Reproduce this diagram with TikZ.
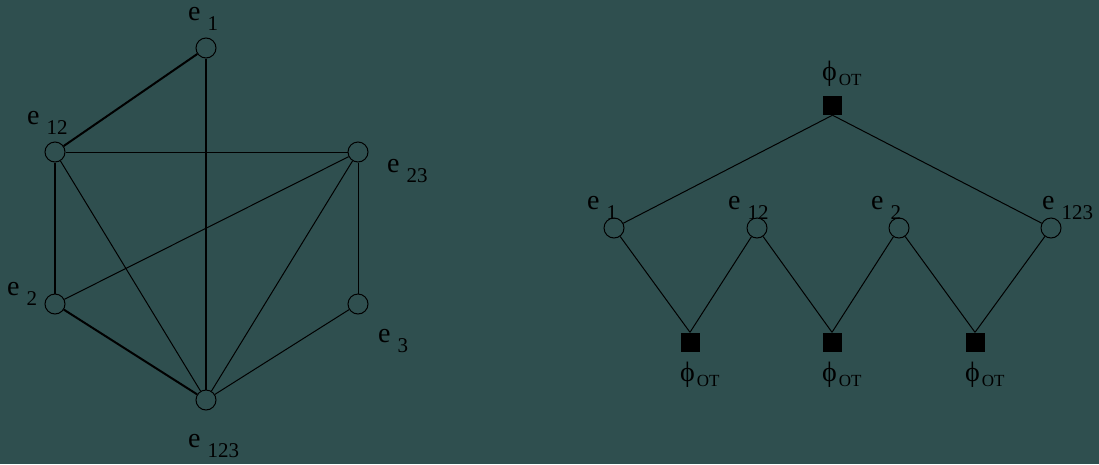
\documentclass[tikz,border=0pt]{standalone}
\usepackage{fontspec}
\setmainfont{Liberation Serif}
\usepackage{tikz}
\usetikzlibrary{positioning}
\definecolor{slatebg}{HTML}{2F4F4F}
\newcommand{\elbl}[2]{#1\kern7pt\raisebox{-10pt}{\fontsize{21}{21}\selectfont #2}}
\newcommand{\phiot}{ϕ\kern2pt\raisebox{-5pt}{\fontsize{17}{17}\selectfont OT}}

\begin{document}
\begin{tikzpicture}[x=1pt,y=-1pt,
  ev/.style={circle,draw=black,line width=1pt,inner sep=0pt,minimum size=20pt},
  fac/.style={rectangle,fill=black,inner sep=0pt,minimum size=19pt},
  lab/.style={anchor=base west,inner sep=0pt,font=\fontsize{28}{28}\selectfont},
  thin/.style={line width=1pt},
  heavy/.style={line width=2pt}]
  \fill[slatebg] (0,0) rectangle (1099,464);
  \useasboundingbox (0,0) rectangle (1099,464);
  % left graph
  \node[ev] (l1) at (206,48) {};
  \node[ev] (l12) at (55,152) {};
  \node[ev] (l23) at (358,152) {};
  \node[ev] (l2) at (55,304) {};
  \node[ev] (l3) at (358,304) {};
  \node[ev] (l123) at (206,400) {};
  \node[lab] (tl1) at (188,20) {\elbl{e}{1}};
  \node[lab] (tl12) at (27,124) {\elbl{e}{12}};
  \node[lab] (tl23) at (387,172) {\elbl{e}{23}};
  \node[lab] (tl2) at (7,295) {\elbl{e}{2}};
  \node[lab] (tl3) at (378,342) {\elbl{e}{3}};
  \node[lab] (tl123) at (188,447) {\elbl{e}{123}};
  \draw[heavy] (l1) -- (l12);
  \draw[heavy] (l1) -- (l123);
  \draw[heavy] (l12) -- (l2);
  \draw[heavy] (l2) -- (l123);
  \draw[thin] (l12) -- (l23);
  \draw[thin] (l12) -- (l123);
  \draw[thin] (l23) -- (l2);
  \draw[thin] (l23) -- (l123);
  \draw[thin] (l23) -- (l3);
  \draw[thin] (l3) -- (l123);
  % right graph
  \node[fac] (ptop) at (832.5,105.5) {};
  \node[ev] (r1) at (614,228) {};
  \node[ev] (r12) at (757,228) {};
  \node[ev] (r2) at (899,228) {};
  \node[ev] (r123) at (1051,228) {};
  \node[fac] (pa) at (690,342) {};
  \node[fac] (pb) at (832,342) {};
  \node[fac] (pc) at (975,342) {};
  \node[lab] (tptop) at (822,80) {\phiot};
  \node[lab] (tpa) at (680,381) {\phiot};
  \node[lab] (tpb) at (822,381) {\phiot};
  \node[lab] (tpc) at (965,381) {\phiot};
  \node[lab] (tr1) at (587,209) {\elbl{e}{1}};
  \node[lab] (tr12) at (728,209) {\elbl{e}{12}};
  \node[lab] (tr2) at (871,209) {\elbl{e}{2}};
  \node[lab] (tr123) at (1042,209) {\elbl{e}{123}};
  \draw[thin] (ptop.south) -- (r1);
  \draw[thin] (ptop.south) -- (r123);
  \draw[thin] (r1) -- (pa.north);
  \draw[thin] (r12) -- (pa.north);
  \draw[thin] (r12) -- (pb.north);
  \draw[thin] (r2) -- (pb.north);
  \draw[thin] (r2) -- (pc.north);
  \draw[thin] (r123) -- (pc.north);
\end{tikzpicture}
\end{document}
